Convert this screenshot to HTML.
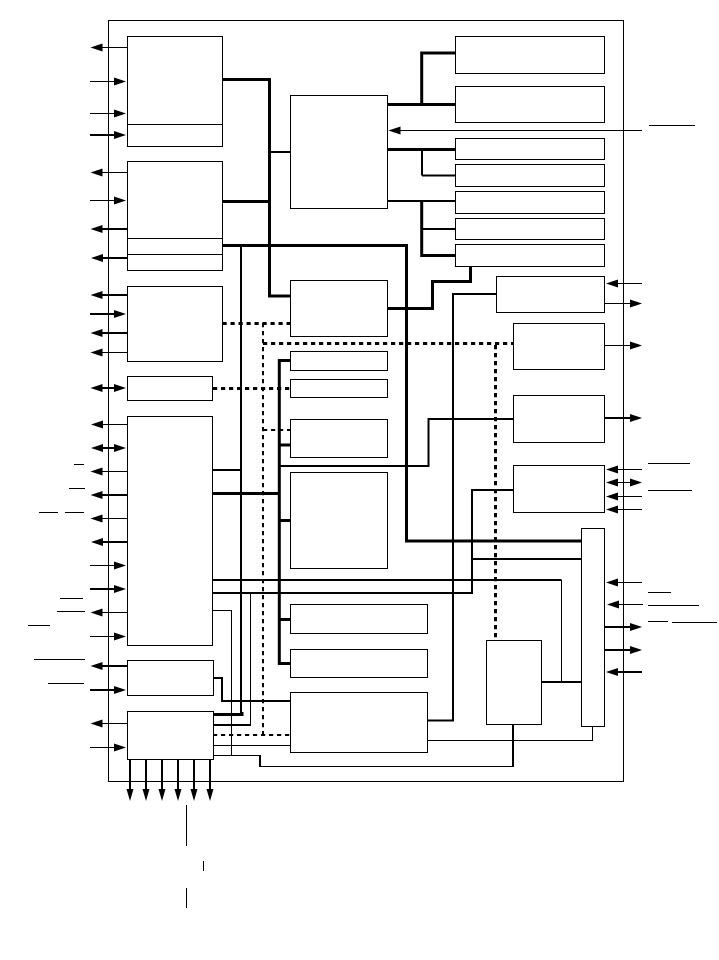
<!DOCTYPE html>
<html>
<head>
<meta charset="utf-8">
<style>
html,body{margin:0;padding:0;background:#fff;}
svg{display:block;}
</style>
</head>
<body>
<svg width="719" height="960" viewBox="0 0 719 960" xmlns="http://www.w3.org/2000/svg">
<defs>
<path id="L" d="M0 0L12 -4L12 4Z"/>
<path id="R" d="M0 0L-12 -4L-12 4Z"/>
<path id="D" d="M0 0L-3.5 -12L3.5 -12Z"/>
</defs>
<rect width="719" height="960" fill="#fff"/>

<g fill="none" stroke="#000" stroke-width="1">
<!-- thin connectors -->
<path d="M561.5 580V682"/>
<path d="M213 610.5H231.5V755.5"/>
<path d="M213 755.5H260M260 766.5H513"/>
<path d="M213 745.5H290"/>
<path d="M427 740.5H592.5V726"/>
<path d="M250.5 593V725"/>
</g>
<path d="M260 755V767" fill="none" stroke="#000" stroke-width="2"/>
<g fill="none" stroke="#000" stroke-width="2">
<path d="M270 152H290"/>
<path d="M387 201H455"/>
<path d="M422 229H455"/>
<path d="M251 725H213"/>
<path d="M213 678H222V701H290"/>
<path d="M212 470H241"/>
<path d="M241 245.5V714"/>
<path d="M279 466H428.5V419H513"/>
<path d="M496 294H453V720.5H427"/>
<path d="M212 580H561.5"/>
<path d="M212 593H472V490H513"/>
<path d="M472 559H581"/>
<path d="M541 682H581"/>
<path d="M513 724V767"/>
<path d="M422 175.5H455"/>
<path d="M422 149V175.5"/>
</g>
<g fill="none" stroke="#000" stroke-width="3">
<path d="M222 79.5H269.5V296H290"/>
<path d="M222 201.5H269.5"/>
<path d="M222 245.5H406.5V541H581"/>
<path d="M387 104.5H455"/>
<path d="M421.7 104.5V53H455"/>
<path d="M387 149.5H455"/>
<path d="M421.7 201V255.5H455"/>
<path d="M470.5 266V281.5H432.5V308.5H387"/>
<path d="M290 360.5H279.3V663.5H290"/>
<path d="M279 445H290"/>
<path d="M279 520.5H290"/>
<path d="M279 619.5H290"/>
<path d="M212 493.5H279"/>
<path d="M213 714.5H242V712"/>
</g>
<!-- dashed -->
<g fill="none" stroke="#000" stroke-dasharray="4.2 3.8">
<path d="M222.5 323.5H290" stroke-width="3"/>
<path d="M263 323V735" stroke-width="2"/>
<path d="M263 343.5H513" stroke-width="3"/>
<path d="M495.5 345V640" stroke-width="3"/>
<path d="M213 388.5H290" stroke-width="3"/>
<path d="M263 430H290" stroke-width="2"/>
<path d="M213 735H290" stroke-width="2"/>
</g>

<!-- blocks -->
<g fill="#fff" stroke="#000" stroke-width="1">
<rect x="108.5" y="20.5" width="515" height="761" fill="none"/>
<rect x="127.5" y="36.5" width="95" height="110"/>
<rect x="127.5" y="161.5" width="95" height="109"/>
<rect x="127.5" y="286.5" width="95" height="75"/>
<rect x="127.5" y="376.5" width="85" height="24"/>
<rect x="127.5" y="416.5" width="85" height="229"/>
<rect x="127.5" y="660.5" width="86" height="35"/>
<rect x="127.5" y="711.5" width="86" height="48"/>
<rect x="290.5" y="95.5" width="97" height="113"/>
<rect x="290.5" y="280.5" width="97" height="56"/>
<rect x="290.5" y="351.5" width="97" height="19"/>
<rect x="290.5" y="379.5" width="97" height="18"/>
<rect x="290.5" y="419.5" width="97" height="38"/>
<rect x="290.5" y="472.5" width="97" height="96"/>
<rect x="290.5" y="604.5" width="137" height="29"/>
<rect x="290.5" y="649.5" width="137" height="28"/>
<rect x="290.5" y="692.5" width="137" height="60"/>
<rect x="455.5" y="36.5" width="149" height="37"/>
<rect x="455.5" y="86.5" width="149" height="36"/>
<rect x="455.5" y="138.5" width="149" height="21"/>
<rect x="455.5" y="164.5" width="149" height="22"/>
<rect x="455.5" y="191.5" width="149" height="22"/>
<rect x="455.5" y="218.5" width="149" height="21"/>
<rect x="455.5" y="244.5" width="149" height="22"/>
<rect x="496.5" y="276.5" width="108" height="36"/>
<rect x="513.5" y="323.5" width="91" height="46"/>
<rect x="513.5" y="395.5" width="91" height="47"/>
<rect x="513.5" y="465.5" width="91" height="47"/>
<rect x="581.5" y="528.5" width="23" height="198"/>
<rect x="486.5" y="640.5" width="55" height="84"/>
<path d="M127.5 124.5H222.5M127.5 238.5H222.5M127.5 254.5H222.5" fill="none"/>
</g>

<!-- thin pin shafts -->
<g fill="none" stroke="#000" stroke-width="1">
<path d="M100 47.5H127M90 81.5H118M90 113.5H118M100 172.5H127M90 200.5H118M100 352.5H127"/>
<path d="M100 424.5H127M100 471.5H127M100 518.5H127M90 565.5H118M100 612.5H127M90 636.5H118"/>
<path d="M100 723.5H127M90 747.5H118"/>
<path d="M642 130.5H398M642 283.5H616M604 303.5H632M604 345.5H632"/>
<path d="M642 469.5H616M616 482.5H632M642 496.5H616M642 509.5H616M642 582.5H616M643 604.5H616"/>
</g>
<!-- thick pin shafts -->
<g fill="none" stroke="#000" stroke-width="2">
<path d="M90 135H118M100 229H127M100 258H127M100 295H127M90 314H118M100 333H127"/>
<path d="M100 388H118M100 448H118M100 495H127M100 542H127M90 589H118M100 666H127M90 690H118"/>
<path d="M604 418H632M604 627H632M604 650H632M642 672H616"/>
<path d="M130 759V792M146 759V792M162 759V792M178 759V792M194 759V792M210 759V792"/>
</g>

<!-- arrowheads -->
<g fill="#000">
<use href="#L" x="90.5" y="47.5"/><use href="#R" x="126" y="81.5"/><use href="#R" x="126" y="113.5"/><use href="#R" x="126" y="135"/>
<use href="#L" x="90.5" y="172.5"/><use href="#R" x="126" y="200.5"/><use href="#L" x="90.5" y="229"/><use href="#L" x="91" y="258"/>
<use href="#L" x="90.5" y="295"/><use href="#R" x="126" y="314"/><use href="#L" x="90.5" y="333"/><use href="#L" x="90.5" y="352.5"/>
<use href="#L" x="90.5" y="388"/><use href="#R" x="126" y="388"/>
<use href="#L" x="91" y="424.5"/>
<use href="#L" x="91" y="448"/><use href="#R" x="126" y="448"/>
<use href="#L" x="90.5" y="471.5"/><use href="#L" x="90.5" y="495"/><use href="#L" x="90.5" y="518.5"/><use href="#L" x="91" y="542"/>
<use href="#R" x="126" y="565.5"/><use href="#R" x="126" y="589"/><use href="#L" x="90.5" y="612.5"/><use href="#R" x="126" y="636.5"/>
<use href="#L" x="90.5" y="666"/><use href="#R" x="126" y="690"/><use href="#L" x="90.5" y="723.5"/><use href="#R" x="126" y="747.5"/>

<use href="#L" x="388.5" y="130.5"/>
<use href="#L" x="606" y="283.5"/><use href="#R" x="642" y="303.5"/>
<use href="#R" x="642" y="345.5"/><use href="#R" x="642" y="418"/>
<use href="#L" x="606" y="469.5"/><use href="#L" x="606" y="482.5"/><use href="#R" x="642" y="482.5"/>
<use href="#L" x="606" y="496.5"/><use href="#L" x="606" y="509.5"/>
<use href="#L" x="606" y="582.5"/><use href="#L" x="607" y="604.5"/>
<use href="#R" x="642" y="627"/><use href="#R" x="642" y="650"/><use href="#L" x="606" y="672"/>

<use href="#D" x="130" y="801"/><use href="#D" x="146" y="801"/><use href="#D" x="162" y="801"/><use href="#D" x="178" y="801"/><use href="#D" x="194" y="801"/><use href="#D" x="210" y="801"/>
</g>

<!-- overbars and ticks -->
<g fill="none" stroke="#000" stroke-width="1">
<path d="M74 464.5H84M69 488.5H85M39 512.5H58M65 512.5H84M60 598.5H83M57 611.5H85M28 625.5H50M34 659.5H85M48 683.5H84"/>
<path d="M649 125.5H695M648 463.5H690M648 490.5H692M648 592.5H671M648 605.5H699M648 621.5H668M672 622.5H717"/>
<path d="M186.5 805V846M203.5 861V871M186.5 888V908"/>
</g>
</svg>
</body>
</html>
